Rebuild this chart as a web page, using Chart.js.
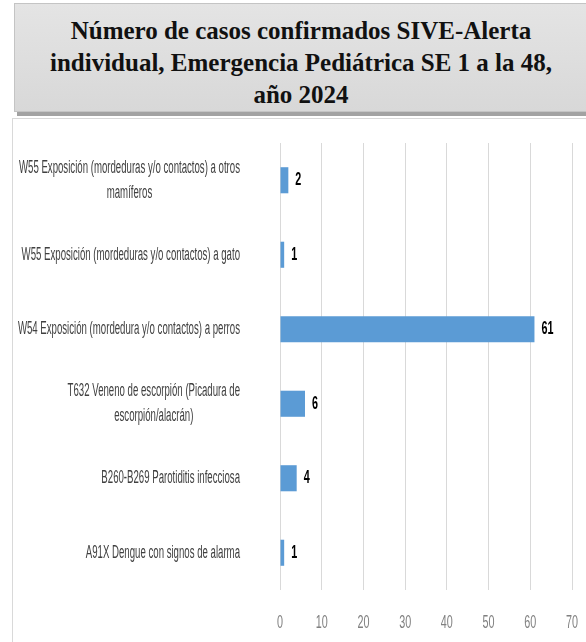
<!DOCTYPE html>
<html>
<head>
<meta charset="utf-8">
<script src="https://cdn.jsdelivr.net/npm/chart.js@4.4.1/dist/chart.umd.min.js"></script>
<style>
  html, body { margin: 0; padding: 0; background: #fff; }
  body { width: 586px; height: 642px; position: relative; overflow: hidden; }
  #titleBox {
    position: absolute; left: 14px; top: 3px; width: 600px; height: 109px;
    background: linear-gradient(#e4e4e4, #d8d8d8);
    border: 1px solid #c4c4c4;
    box-shadow: 3px 4px 0 #a2a2a2;
    font-family: "Liberation Serif", serif; font-weight: bold; font-size: 25px;
    line-height: 32px; color: #111; text-align: left;
    box-sizing: border-box; padding-top: 11px;
  }
  #titleBox div { width: 572px; text-align: center; }
  #chartBox {
    position: absolute; left: 12px; top: 118px; width: 600px; height: 540px;
    border-left: 1px solid #d9d9d9; border-top: 1px solid #d9d9d9;
  }
  #wrap { position: absolute; left: 13px; top: 119px; width: 573px; height: 523px; }
</style>
</head>
<body>
<div id="titleBox"><div>Número de casos confirmados SIVE-Alerta<br>individual, Emergencia Pediátrica SE 1 a la 48,<br>año 2024</div></div>
<div id="chartBox"></div>
<div id="wrap"><canvas id="myChart"></canvas></div>
<script>
// categories, top to bottom, each split in the lines shown in the picture
const categories = [
	["W55 Exposición (mordeduras y/o contactos) a otros", "mamíferos"],
	["W55 Exposición (mordeduras y/o contactos) a gato"],
	["W54 Exposición (mordedura y/o contactos) a perros"],
	["T632 Veneno de escorpión (Picadura de", "escorpión/alacrán)"],
	["B260-B269 Parotiditis infecciosa"],
	["A91X Dengue con signos de alarma"]
];
const caseCounts = [2, 1, 61, 6, 4, 1];
const xTickMin = 0;
const xTickMax = 70;
const xTickStep = 10;

// no condensed font installed, so text gets squeezed horizontally
const labelFont = '18px "Liberation Sans", sans-serif';

function squeezedText(ctx, text, x, y, sx) {
	ctx.save();
	ctx.translate(x, y);
	ctx.scale(sx, 1);
	ctx.fillText(text, 0, 0);
	ctx.restore();
}

//category names and x tick labels
const axisLabels = {
	id: 'axisLabels',
	afterDraw(chart) {
		const ctx = chart.ctx;
		const yScale = chart.scales.y;
		const xScale = chart.scales.x;
		const right = chart.chartArea.left - 40;
		const sx = 0.535;
		ctx.save();
		ctx.font = labelFont;
		ctx.fillStyle = '#404040';
		ctx.textAlign = 'center';
		ctx.textBaseline = 'middle';
		categories.forEach(function(lines, i) {
			var widest = 0;
			lines.forEach(function(l) { widest = Math.max(widest, ctx.measureText(l).width * sx); });
			var cx = right - widest / 2;
			var cy = yScale.getPixelForValue(i);
			lines.forEach(function(l, j) {
				squeezedText(ctx, l, cx, cy + (j - (lines.length - 1) / 2) * 25, sx);
			});
		});
		ctx.fillStyle = '#808080';
		ctx.font = '18px "Liberation Sans", sans-serif';
		xScale.ticks.forEach(function(t) {
			squeezedText(ctx, String(t.value), xScale.getPixelForValue(t.value), chart.chartArea.bottom + 33, 0.6);
		});
		ctx.restore();
	}
};

//value labels at the end of each bar
const barValues = {
	id: 'barValues',
	afterDatasetsDraw(chart) {
		const ctx = chart.ctx;
		const meta = chart.getDatasetMeta(0);
		ctx.save();
		ctx.font = 'bold 18px "Liberation Sans", sans-serif';
		ctx.fillStyle = '#000';
		ctx.textAlign = 'left';
		ctx.textBaseline = 'middle';
		meta.data.forEach(function(bar, i) {
			squeezedText(ctx, String(caseCounts[i]), bar.x + 7, bar.y, 0.6);
		});
		ctx.restore();
	}
};

var ctx = document.getElementById("myChart").getContext('2d');
var myChart = new Chart(ctx, {
	type: 'bar',
	data: {
		labels: categories,
		datasets: [{
			label: "Casos",
			data: caseCounts,
			backgroundColor: "#5B9BD5",
			borderWidth: 0,
			barPercentage: 0.7,
			categoryPercentage: 0.5
		}]
	},
	options: {
		indexAxis: 'y',
		responsive: true,
		maintainAspectRatio: false,
		animation: false,
		layout: { padding: { top: 24, right: 14, left: 0, bottom: 0 } },
		plugins: {
			legend: { display: false },
			tooltip: { enabled: false },
			title: { display: false }
		},
		scales: {
			x: {
				min: xTickMin,
				max: xTickMax,
				ticks: { stepSize: xTickStep, display: false },
				grid: { color: '#d9d9d9', drawTicks: false },
				border: { display: false },
				afterFit: function(scale) { scale.height = 52; }
			},
			y: {
				ticks: { display: false },
				grid: { display: false },
				border: { display: false },
				afterFit: function(scale) { scale.width = 267; }
			}
		}
	},
	plugins: [axisLabels, barValues]
});
</script>
</body>
</html>
